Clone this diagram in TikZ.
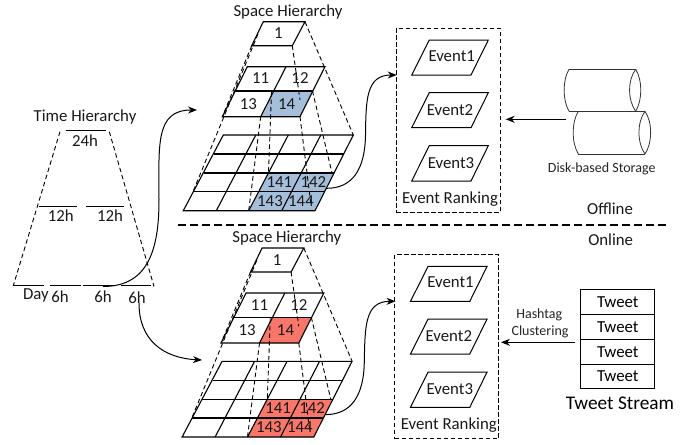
\documentclass[tikz,border=0pt]{standalone}
\usepackage{fontspec}
\setmainfont{Carlito}
\usetikzlibrary{arrows.meta}
\definecolor{cellblue}{HTML}{A5BFDB}
\definecolor{cellred}{HTML}{F8766A}
\tikzset{
  x=1pt,y=-1pt,
  solidline/.style={draw=black,line width=1pt},
  gridline/.style={draw=black,line width=1.1pt},
  dashline/.style={draw=black,line width=0.9pt,dash pattern=on 4.5pt off 3pt},
  flow/.style={draw=black,line width=1pt,-{Stealth[length=9pt,width=7pt]}},
  lab/.style={inner sep=0pt,font=\fontsize{16.8}{18}\selectfont,text=black!90},
  smalllab/.style={inner sep=0pt,font=\fontsize{14}{15}\selectfont,text=black!85},
  rankbox/.style={draw=black,line width=1pt,dash pattern=on 4.5pt off 2.5pt,minimum width=104pt,minimum height=184pt,inner sep=0pt},
  tweetcell/.style={draw=black,line width=1pt,minimum width=74.3pt,minimum height=24.6pt,inner sep=0pt,font=\fontsize{16.8}{18}\selectfont},
  diskline/.style={draw=black!80,line width=0.8pt},
}
\newcommand{\spacepyramid}[3]{%
\begin{scope}[shift={(#2)}]
  % filled cells
  \fill[#3] (260.7,116.7) -- (273.5,91) -- (312.5,91) -- (300,116.7) -- cycle;
  \fill[#3] (268.5,173) -- (333.5,173) -- (315,210.7) -- (248.7,210.7) -- cycle;
  % box 1
  \draw[gridline] (263.3,21.7) -- (305,21.7) -- (292.3,45.7) -- (251.7,45.7) -- cycle;
  % level 2
  \draw[gridline] (247.3,66.7) -- (325,66.7) -- (300,116.7) -- (222.3,116.7) -- cycle;
  \draw[gridline] (234.8,91) -- (312.5,91);
  \draw[gridline] (286,66.7) -- (260.7,116.7);
  % grid
  \draw[gridline] (223.3,135) -- (353.3,135) -- (315,210.7) -- (183.3,210.7) -- cycle;
  \draw[gridline] (213.7,154) -- (343.8,154);
  \draw[gridline] (203.5,173) -- (334,173);
  \draw[gridline] (193.5,191.7) -- (324.5,191.7);
  \draw[gridline] (255.8,135) -- (216.3,210.7);
  \draw[gridline] (288.3,135) -- (248.7,210.7);
  \draw[gridline] (320.8,135) -- (281.7,210.7);
  % dashed projections
  \draw[dashline] (305,21.7) -- (353.3,135);
  \draw[dashline] (251.7,45.7) -- (222.3,116.7);
  \draw[dashline] (258,34) -- (193,191.7);
  \draw[dashline] (292.3,45.7) -- (300,100);
  \draw[dashline] (260.7,116.7) -- (248.7,210.7);
  \draw[dashline] (271.5,92) -- (268.5,173);
  \draw[dashline] (300,116.7) -- (311,205);
  \draw[dashline] (312.5,91) -- (332,173);
  % labels
  \node[lab] (#1t) at (278.3,33.3) {1};
  \node[lab] (#1a) at (260.7,78.3) {11};
  \node[lab] (#1b) at (300,78.3) {12};
  \node[lab] (#1c) at (248.3,104) {13};
  \node[lab] (#1d) at (286.7,104) {14};
  \node[lab] (#1e) at (279.3,181.7) {141};
  \node[lab] (#1f) at (313.3,181.7) {142};
  \node[lab] (#1g) at (270,201) {143};
  \node[lab] (#1h) at (301,201) {144};
  \node[lab] (#1title) at (288,12) {Space Hierarchy};
  \coordinate (#1out) at (326.7,188.3);
  % event ranking
  \node[rankbox] (#1rank) at (448,120.3) {};
  \coordinate (#1in) at (396.7,75);
  \draw[solidline] (429.3,40) -- (488.3,40) -- (471,75) -- (411.7,75) -- cycle;
  \draw[solidline] (429.3,92.7) -- (488.3,92.7) -- (471,127.7) -- (411.7,127.7) -- cycle;
  \draw[solidline] (429.3,145.7) -- (488.3,145.7) -- (471,181) -- (411.7,181) -- cycle;
  \node[lab] (#1ev1) at (451.7,55.7) {Event1};
  \node[lab] (#1ev2) at (450,110) {Event2};
  \node[lab] (#1ev3) at (451,162.7) {Event3};
  \node[lab] (#1rl) at (450,199.3) {Event Ranking};
\end{scope}}
\begin{document}
\begin{tikzpicture}
\useasboundingbox (0,0) rectangle (697,445);
\fill[white] (0,0) rectangle (697,445);
\spacepyramid{u}{0,0}{cellblue}
\spacepyramid{v}{-1.2,226.3}{cellred}
% time hierarchy
\node[lab] (timetitle) at (85,116.7) {Time Hierarchy};
\draw[solidline] (65.7,130.7) -- (105.7,130.7);
\draw[solidline] (39,206.7) -- (77,206.7);
\draw[solidline] (86,206.7) -- (124,206.7);
\draw[solidline] (13.3,285.7) -- (43.7,285.7);
\draw[solidline] (50,285.7) -- (80.7,285.7);
\draw[solidline] (83.3,285.7) -- (113.5,285.7);
\draw[solidline] (120.7,285.7) -- (151,285.7);
\draw[dashline] (60,131.7) -- (13.3,285.7);
\draw[dashline] (109.3,131.7) -- (154,286.5);
\node[lab] (h24) at (85,141) {24h};
\node[lab] (h12a) at (60.7,216) {12h};
\node[lab] (h12b) at (110,215.5) {12h};
\node[lab] (day) at (36,295.5) {Day};
\node[lab] (h6a) at (60,296.5) {6h};
\node[lab] (h6b) at (103,296.5) {6h};
\node[lab] (h6c) at (137,297.5) {6h};
\coordinate (t6b) at (103,286.5);
\coordinate (t6c) at (139,303);
\coordinate (uarr) at (197,110);
\coordinate (varr) at (202,360);
\draw[flow] (t6b) .. controls (148,286.5) and (159,250) .. (159,200) .. controls (159,145) and (155,110) .. (uarr);
\draw[flow] (t6c) .. controls (139,340) and (163,358) .. (varr);
\draw[flow] (uout) .. controls (352,188.3) and (365,170) .. (365.5,135) .. controls (366,100) and (366,75) .. (uin);
\draw[flow] (vout) .. controls (351,414.6) and (364,396) .. (364.3,361) .. controls (365,326) and (365,301.3) .. (vin);
% separator
\draw[draw=black,line width=1.5pt,dash pattern=on 8pt off 4pt] (178,225) -- (668,225);
\node[lab] (offline) at (610,209) {Offline};
\node[lab] (online) at (610.7,239.3) {Online};
% disks
\draw[diskline] (569,69.3) -- (635.7,69.3);
\draw[diskline] (569,111.3) -- (635.7,111.3);
\draw[diskline] (569,69.3) .. controls (562.5,80) and (562.5,100) .. (569,111.3);
\draw[diskline] (635.7,69.3) .. controls (627.5,80) and (627.5,100) .. (635.7,111.3);
\draw[diskline] (635.7,69.3) .. controls (642.5,80) and (642.5,100) .. (635.7,111.3);
\draw[diskline] (578.3,111.3) -- (645,111.3);
\draw[diskline] (578.3,154) -- (645,154);
\draw[diskline] (578.3,111.3) .. controls (571.5,122) and (571.5,143) .. (578.3,154);
\draw[diskline] (645,111.3) .. controls (637,122) and (637,143) .. (645,154);
\draw[diskline] (645,111.3) .. controls (652.5,122) and (652.5,143) .. (645,154);
\node[smalllab] (disk) at (601.7,168.7) {Disk-based Storage};
\coordinate (diskout) at (566,119.3);
\coordinate (rankin) at (505.7,119.3);
\draw[flow] (diskout) -- (rankin);
% tweets
\node[tweetcell] (tw1) at (617.8,302.2) {Tweet};
\node[tweetcell] (tw2) at (617.8,326.8) {Tweet};
\node[tweetcell] (tw3) at (617.8,351.7) {Tweet};
\node[tweetcell] (tw4) at (617.8,376.6) {Tweet};
\node[inner sep=0pt,font=\fontsize{19.3}{21}\selectfont] (stream) at (620,403.3) {Tweet Stream};
\coordinate (twout) at (575,342.3);
\coordinate (vrankin) at (501,342.3);
\draw[flow] (twout) -- (vrankin);
\node[smalllab] (hash) at (539.3,315) {Hashtag};
\node[smalllab] (clus) at (540,331.7) {Clustering};
\end{tikzpicture}
\end{document}
